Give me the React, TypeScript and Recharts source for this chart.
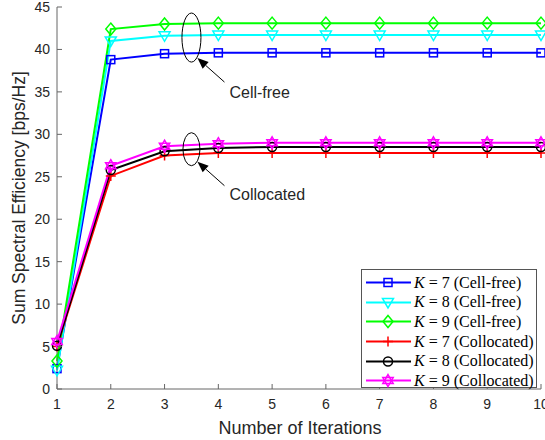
import React from 'react';
import { LineChart, Line, XAxis, YAxis, ReferenceDot } from 'recharts';

const iterations = [1, 2, 3, 4, 5, 6, 7, 8, 9, 10];
const cellFreeK7 = [2.4, 38.8, 39.5, 39.6, 39.6, 39.6, 39.6, 39.6, 39.6, 39.6];
const cellFreeK8 = [2.2, 41.0, 41.6, 41.7, 41.7, 41.7, 41.7, 41.7, 41.7, 41.7];
const cellFreeK9 = [3.3, 42.4, 43.0, 43.1, 43.1, 43.1, 43.1, 43.1, 43.1, 43.1];
const collocatedK7 = [5.0, 25.1, 27.5, 27.8, 27.8, 27.8, 27.8, 27.8, 27.8, 27.8];
const collocatedK8 = [5.1, 25.8, 28.0, 28.4, 28.5, 28.5, 28.5, 28.5, 28.5, 28.5];
const collocatedK9 = [5.6, 26.3, 28.6, 28.9, 29.0, 29.0, 29.0, 29.0, 29.0, 29.0];
const xTicks = [1, 2, 3, 4, 5, 6, 7, 8, 9, 10];
const yTicks = [0, 5, 10, 15, 20, 25, 30, 35, 40, 45];

type Marker = 'square' | 'triDown' | 'diamond' | 'plus' | 'circle' | 'hexagram';

const series: { key: string; k: number; group: string; color: string; marker: Marker; values: number[] }[] = [
  { key: 'cf7', k: 7, group: 'Cell-free', color: '#0000ff', marker: 'square', values: cellFreeK7 },
  { key: 'cf8', k: 8, group: 'Cell-free', color: '#00ffff', marker: 'triDown', values: cellFreeK8 },
  { key: 'cf9', k: 9, group: 'Cell-free', color: '#00ff00', marker: 'diamond', values: cellFreeK9 },
  { key: 'co7', k: 7, group: 'Collocated', color: '#ff0000', marker: 'plus', values: collocatedK7 },
  { key: 'co8', k: 8, group: 'Collocated', color: '#000000', marker: 'circle', values: collocatedK8 },
  { key: 'co9', k: 9, group: 'Collocated', color: '#ff00ff', marker: 'hexagram', values: collocatedK9 },
];

const data = iterations.map((it, i) => {
  const row: Record<string, number> = { it };
  series.forEach((s) => {
    row[s.key] = s.values[i];
  });
  return row;
});

const axisColor = '#666';
const textColor = '#262626';
const sansFont = '"Liberation Sans", Arial, sans-serif';

function MarkerShape({ type, cx, cy, color }: { type: Marker; cx: number; cy: number; color: string }) {
  const sw = 1.5;
  switch (type) {
    case 'square':
      return <rect x={cx - 4} y={cy - 4} width={8} height={8} fill="none" stroke={color} strokeWidth={sw} />;
    case 'triDown':
      return (
        <polygon
          points={`${cx - 5.5},${cy - 4} ${cx + 5.5},${cy - 4} ${cx},${cy + 5.5}`}
          fill="none"
          stroke={color}
          strokeWidth={sw}
        />
      );
    case 'diamond':
      return (
        <polygon
          points={`${cx},${cy - 6} ${cx + 5},${cy} ${cx},${cy + 6} ${cx - 5},${cy}`}
          fill="none"
          stroke={color}
          strokeWidth={sw}
        />
      );
    case 'plus':
      return (
        <path d={`M${cx - 5},${cy}H${cx + 5}M${cx},${cy - 5}V${cy + 5}`} stroke={color} strokeWidth={sw} />
      );
    case 'circle':
      return <circle cx={cx} cy={cy} r={4.5} fill="none" stroke={color} strokeWidth={sw} />;
    case 'hexagram': {
      const r = 6;
      const tri = (off: number) =>
        [0, 1, 2]
          .map((j) => {
            const a = off + (j * 2 * Math.PI) / 3;
            return `${cx + r * Math.sin(a)},${cy - r * Math.cos(a)}`;
          })
          .join(' ');
      return (
        <g fill="none" stroke={color} strokeWidth={sw}>
          <polygon points={tri(0)} />
          <polygon points={tri(Math.PI)} />
        </g>
      );
    }
  }
  return null;
}

const bottomTick = (props: any) => {
  const { x, y, payload } = props;
  return (
    <g>
      <line x1={x} y1={y} x2={x} y2={y - 5} stroke={axisColor} />
      <text x={x} y={y + 20} textAnchor="middle" fill={textColor} fontSize={14} fontFamily={sansFont}>
        {payload.value}
      </text>
    </g>
  );
};

const topTick = (props: any) => {
  const { x, y } = props;
  return <line x1={x} y1={y} x2={x} y2={y + 5} stroke={axisColor} />;
};

const leftTick = (props: any) => {
  const { x, y, payload } = props;
  return (
    <g>
      <line x1={x} y1={y} x2={x + 5} y2={y} stroke={axisColor} />
      <text x={x - 7} y={y + 5} textAnchor="end" fill={textColor} fontSize={14} fontFamily={sansFont}>
        {payload.value}
      </text>
    </g>
  );
};

const rightTick = (props: any) => {
  const { x, y } = props;
  return <line x1={x} y1={y} x2={x - 5} y2={y} stroke={axisColor} />;
};

const annotation = (rx: number, ry: number, label: string, textDy: number) => (props: any) => {
  const { cx, cy } = props;
  const tipX = cx + 6;
  const tipY = cy + ry - 4;
  const tailX = cx + 33;
  const tailY = cy + ry + 20;
  const ang = Math.atan2(tipY - tailY, tipX - tailX);
  const hl = 11;
  const hw = 4.5;
  const bx = tipX - hl * Math.cos(ang);
  const by = tipY - hl * Math.sin(ang);
  const px = -Math.sin(ang) * hw;
  const py = Math.cos(ang) * hw;
  return (
    <g>
      <ellipse cx={cx} cy={cy} rx={rx} ry={ry} fill="none" stroke="#000" strokeWidth={1} />
      <line x1={tailX} y1={tailY} x2={bx} y2={by} stroke="#000" strokeWidth={1} />
      <polygon points={`${tipX},${tipY} ${bx + px},${by + py} ${bx - px},${by - py}`} fill="#000" />
      <text x={cx + 38} y={tailY + textDy} fill={textColor} fontSize={16} fontFamily={sansFont}>
        {label}
      </text>
    </g>
  );
};

function LegendBox() {
  return (
    <div
      style={{
        position: 'absolute',
        left: 361,
        top: 269,
        width: 176,
        height: 119,
        boxSizing: 'border-box',
        border: '1px solid #555',
        background: '#fff',
        paddingTop: 3,
        fontFamily: '"Liberation Serif", "Times New Roman", serif',
        fontSize: 16,
        color: '#000',
      }}
    >
      {series.map((s) => (
        <div key={s.key} style={{ height: 19.6, display: 'flex', alignItems: 'center' }}>
          <svg width={52} height={19} style={{ flex: 'none' }}>
            <line x1={4} y1={9.5} x2={49} y2={9.5} stroke={s.color} strokeWidth={2} />
            <MarkerShape type={s.marker} cx={26} cy={9.5} color={s.color} />
          </svg>
          <span style={{ whiteSpace: 'nowrap' }}>
            <i>K</i> = {s.k} ({s.group})
          </span>
        </div>
      ))}
    </div>
  );
}

export default function App() {
  return (
    <div style={{ position: 'absolute', left: 0, top: 0, width: 545, height: 440, background: '#fff' }}>
      <LineChart width={545} height={440} data={data} margin={{ top: 7, right: 4, left: 0, bottom: 0 }}>
        <XAxis
          dataKey="it"
          type="number"
          domain={[1, 10]}
          ticks={xTicks}
          height={51}
          tickSize={0}
          tickMargin={0}
          tick={bottomTick}
          axisLine={{ stroke: axisColor }}
          tickLine={false}
          interval={0}
          label={{
            content: (p: any) => {
              const vb = p.viewBox;
              return (
                <text
                  x={vb.x + vb.width / 2 + 1}
                  y={vb.y + 45}
                  textAnchor="middle"
                  fill={textColor}
                  fontSize={18}
                  fontFamily={sansFont}
                >
                  Number of Iterations
                </text>
              );
            },
          }}
        />
        <XAxis
          xAxisId="top"
          dataKey="it"
          type="number"
          orientation="top"
          domain={[1, 10]}
          ticks={xTicks}
          height={0}
          tickSize={0}
          tickMargin={0}
          tick={topTick}
          axisLine={{ stroke: axisColor }}
          tickLine={false}
          interval={0}
        />
        <YAxis
          type="number"
          domain={[0, 45]}
          ticks={yTicks}
          width={57}
          tickSize={0}
          tickMargin={0}
          tick={leftTick}
          axisLine={{ stroke: axisColor }}
          tickLine={false}
          interval={0}
          label={{
            content: (p: any) => {
              const vb = p.viewBox;
              const cy = vb.y + vb.height / 2;
              return (
                <text
                  x={25}
                  y={cy}
                  transform={`rotate(-90, 25, ${cy})`}
                  textAnchor="middle"
                  fill={textColor}
                  fontSize={17.5}
                  fontFamily={sansFont}
                >
                  Sum Spectral Efficiency [bps/Hz]
                </text>
              );
            },
          }}
        />
        <YAxis
          yAxisId="right"
          orientation="right"
          type="number"
          domain={[0, 45]}
          ticks={yTicks}
          width={0}
          tickSize={0}
          tickMargin={0}
          tick={rightTick}
          axisLine={{ stroke: axisColor }}
          tickLine={false}
          interval={0}
        />
        {series.map((s) => (
          <Line
            key={s.key}
            dataKey={s.key}
            type="linear"
            stroke={s.color}
            strokeWidth={2}
            isAnimationActive={false}
            dot={(p: any) => (
              <g key={`${s.key}-${p.index}`}>
                <MarkerShape type={s.marker} cx={p.cx} cy={p.cy} color={s.color} />
              </g>
            )}
            activeDot={false}
          />
        ))}
        <ReferenceDot x={3.5} y={41.4} r={0} ifOverflow="visible" shape={annotation(9.5, 24.5, 'Cell-free', 16)} />
        <ReferenceDot x={3.5} y={28.25} r={0} ifOverflow="visible" shape={annotation(8.5, 16.5, 'Collocated', 14)} />
      </LineChart>
      <LegendBox />
    </div>
  );
}
